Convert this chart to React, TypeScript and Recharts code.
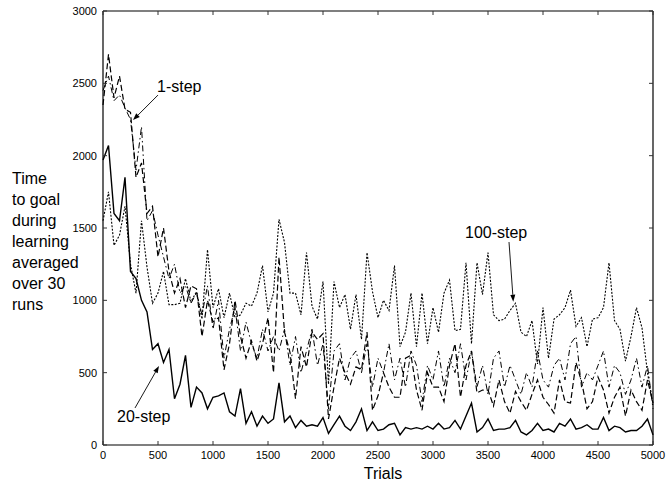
import { LineChart, Line, XAxis, YAxis, ReferenceLine } from 'recharts';

// trial number of each averaged point (every 50 trials)
const trials = [
  0, 50, 100, 150, 200, 250, 300, 350, 400, 450,
  500, 550, 600, 650, 700, 750, 800, 850, 900, 950,
  1000, 1050, 1100, 1150, 1200, 1250, 1300, 1350, 1400, 1450,
  1500, 1550, 1600, 1650, 1700, 1750, 1800, 1850, 1900, 1950,
  2000, 2050, 2100, 2150, 2200, 2250, 2300, 2350, 2400, 2450,
  2500, 2550, 2600, 2650, 2700, 2750, 2800, 2850, 2900, 2950,
  3000, 3050, 3100, 3150, 3200, 3250, 3300, 3350, 3400, 3450,
  3500, 3550, 3600, 3650, 3700, 3750, 3800, 3850, 3900, 3950,
  4000, 4050, 4100, 4150, 4200, 4250, 4300, 4350, 4400, 4450,
  4500, 4550, 4600, 4650, 4700, 4750, 4800, 4850, 4900, 4950,
  5000,
];

// 1-step (dash-dot)
const oneStep = [
  2450, 2550, 2380, 2420, 2330, 2250, 1900, 2200, 1550, 1620,
  1450, 1300, 1150, 1250, 1050, 1100, 980, 1050, 900, 1100,
  800, 1000, 600, 800, 950, 650, 850, 700, 600, 800,
  650, 750, 650, 800, 550, 750, 500, 650, 800, 550,
  700, 250, 650, 700, 450, 600, 650, 500, 700, 400,
  600, 500, 700, 450, 600, 400, 650, 550, 300, 550,
  450, 650, 400, 600, 500, 700, 450, 650, 400, 550,
  350, 600, 650, 400, 550, 450, 350, 500, 400, 650,
  450, 400, 550, 600, 450, 700, 750, 400, 500, 450,
  550, 650, 400, 550, 500, 350, 450, 600, 400, 550,
  250,
];

// unlabelled run (dashed)
const dashedRun = [
  2350, 2700, 2400, 2550, 2320, 2300, 1850, 1950, 1600, 1650,
  1300, 1500, 1200, 1050, 1150, 950, 1100, 1080, 750, 1000,
  850, 880, 520, 700, 1000, 750, 600, 720, 580, 700,
  880, 500, 1300, 780, 640, 320, 680, 540, 780, 730,
  770, 180, 400, 600, 500, 420, 540, 520, 780, 240,
  340, 500, 400, 330, 330, 600, 620, 380, 240, 500,
  400, 400, 300, 550, 700, 330, 550, 650, 360, 380,
  380, 270, 450, 300, 220, 370, 300, 240, 350, 450,
  330, 280, 220, 450, 300, 290, 570, 440, 250, 300,
  470, 380, 220, 330, 400, 200, 380, 300, 240, 450,
  290,
];

// 20-step (solid)
const twentyStep = [
  1970, 2070, 1600, 1550, 1850, 1200, 1150, 1000, 920, 660,
  700, 570, 660, 320, 420, 620, 260, 400, 360, 250,
  330, 340, 360, 230, 200, 390, 150, 230, 130, 200,
  150, 180, 430, 160, 200, 120, 170, 130, 140, 130,
  190, 80, 140, 200, 130, 100, 160, 250, 100, 160,
  100, 110, 140, 150, 70, 120, 110, 120, 110, 130,
  110, 150, 110, 120, 170, 110, 200, 290, 90, 120,
  180, 100, 110, 110, 120, 170, 90, 70, 100, 150,
  100, 110, 90, 150, 130, 180, 110, 120, 140, 110,
  110, 190, 100, 130, 120, 90, 100, 100, 130, 180,
  70,
];

// 100-step (dotted)
const hundredStep = [
  1550, 1750, 1380, 1450, 1650, 1250, 1050, 1550, 1230, 980,
  1050, 1200, 970, 970, 980, 1150, 990, 1060, 870, 1350,
  950, 1080, 880, 1050, 880, 900, 980, 960, 1050, 1240,
  920, 1050, 1560, 1400, 1050, 1050, 900, 1330, 960, 870,
  1130, 420, 1130, 950, 1040, 800, 1040, 730, 1330, 1060,
  880, 1000, 930, 1240, 680, 780, 1050, 680, 1050, 700,
  950, 780, 1050, 1140, 790, 800, 1260, 700, 1260, 1040,
  1330, 900, 860, 870, 930, 980, 780, 750, 860, 560,
  950, 600, 870, 900, 950, 1070, 820, 880, 680, 870,
  880, 950, 1260, 860, 800, 580, 750, 950, 810, 500,
  280,
];

const xDomain = [0, 5000];
const yDomain = [0, 3000];
const xTicks = [0, 500, 1000, 1500, 2000, 2500, 3000, 3500, 4000, 4500, 5000];
const yTicks = [0, 500, 1000, 1500, 2000, 2500, 3000];
const yLabelLines = ['Time', 'to goal', 'during', 'learning', 'averaged', 'over 30', 'runs'];

const data = trials.map((t, i) => ({
  trial: t,
  one: oneStep[i],
  dashed: dashedRun[i],
  twenty: twentyStep[i],
  hundred: hundredStep[i],
}));

// chart layout
const W = 667;
const H = 484;
const marginTop = 11;
const marginRight = 14;
const xAxisHeight = 39;
const yAxisWidth = 103;
const plotLeft = yAxisWidth;
const plotRight = W - marginRight;
const plotTop = marginTop;
const plotBottom = H - xAxisHeight;

const font = '"Liberation Sans", Arial, Helvetica, sans-serif';
const tickStyle = { fontSize: 11, fill: '#000', fontFamily: font };
const frame = { stroke: '#000', strokeWidth: 1.2 };

// arrow callouts: tail -> head in data units, text offset in px from tail
const callouts = [
  { text: '1-step', from: { x: 500, y: 2419 }, to: { x: 273, y: 2246 }, dx: -1, dy: -3 },
  { text: '100-step', from: { x: 3691, y: 1403 }, to: { x: 3730, y: 990 }, dx: -44, dy: -4 },
  { text: '20-step', from: { x: 291, y: 256 }, to: { x: 509, y: 546 }, dx: -18, dy: 14 },
];

function arrowShape(text: string, dx: number, dy: number) {
  return (p: any) => {
    const { x1, y1, x2, y2 } = p;
    const ang = Math.atan2(y2 - y1, x2 - x1);
    const len = 7;
    const w = 2.5;
    const bx = x2 - len * Math.cos(ang);
    const by = y2 - len * Math.sin(ang);
    const px = -Math.sin(ang) * w;
    const py = Math.cos(ang) * w;
    return (
      <g>
        <line x1={x1} y1={y1} x2={bx} y2={by} stroke="#000" strokeWidth={0.9} />
        <polygon points={`${x2},${y2} ${bx + px},${by + py} ${bx - px},${by - py}`} fill="#000" />
        <text x={x1 + dx} y={y1 + dy} fontSize={16} fontFamily={font} fill="#000">
          {text}
        </text>
      </g>
    );
  };
}

// box edges (top, right) and inward tick marks on all four sides
function Frame() {
  const sx = (t: number) => plotLeft + ((t - xDomain[0]) / (xDomain[1] - xDomain[0])) * (plotRight - plotLeft);
  const sy = (t: number) => plotBottom - ((t - yDomain[0]) / (yDomain[1] - yDomain[0])) * (plotBottom - plotTop);
  const k = 4;
  return (
    <svg width={W} height={H} style={{ position: 'absolute', left: 0, top: 0, pointerEvents: 'none' }}>
      <line x1={plotLeft} y1={plotTop} x2={plotRight} y2={plotTop} stroke="#000" strokeWidth={1.2} />
      <line x1={plotRight} y1={plotTop} x2={plotRight} y2={plotBottom} stroke="#000" strokeWidth={1.2} />
      {xTicks.map((t) => (
        <g key={`x${t}`}>
          <line x1={sx(t)} y1={plotBottom} x2={sx(t)} y2={plotBottom - k} stroke="#333" strokeWidth={1} />
          <line x1={sx(t)} y1={plotTop} x2={sx(t)} y2={plotTop + k} stroke="#333" strokeWidth={1} />
        </g>
      ))}
      {yTicks.map((t) => (
        <g key={`y${t}`}>
          <line x1={plotLeft} y1={sy(t)} x2={plotLeft + k} y2={sy(t)} stroke="#333" strokeWidth={1} />
          <line x1={plotRight} y1={sy(t)} x2={plotRight - k} y2={sy(t)} stroke="#333" strokeWidth={1} />
        </g>
      ))}
    </svg>
  );
}

export default function App() {
  return (
    <div style={{ position: 'absolute', left: 0, top: 0, width: W, height: H, background: '#fff' }}>
      <LineChart width={W} height={H} data={data} margin={{ top: marginTop, right: marginRight, bottom: 0, left: 0 }}>
        <XAxis
          dataKey="trial"
          type="number"
          domain={xDomain}
          ticks={xTicks}
          height={xAxisHeight}
          tickLine={false}
          tickSize={0}
          tickMargin={6}
          tick={tickStyle}
          axisLine={frame}
        />
        <YAxis
          type="number"
          domain={yDomain}
          ticks={yTicks}
          width={yAxisWidth}
          tickLine={false}
          tickSize={0}
          tickMargin={6}
          tick={tickStyle}
          axisLine={frame}
        />
        <Line dataKey="hundred" stroke="#000" strokeWidth={1.1} strokeDasharray="2 1.5" dot={false} isAnimationActive={false} />
        <Line dataKey="one" stroke="#000" strokeWidth={1} strokeDasharray="6 3 1.5 3" dot={false} isAnimationActive={false} />
        <Line dataKey="dashed" stroke="#000" strokeWidth={1.2} strokeDasharray="6 3" dot={false} isAnimationActive={false} />
        <Line dataKey="twenty" stroke="#000" strokeWidth={1.4} dot={false} isAnimationActive={false} />
        {callouts.map((c) => (
          <ReferenceLine
            key={c.text}
            segment={[c.from, c.to]}
            ifOverflow="visible"
            shape={arrowShape(c.text, c.dx, c.dy)}
          />
        ))}
      </LineChart>
      <Frame />
      <div
        style={{
          position: 'absolute',
          left: 12,
          top: 168,
          fontFamily: font,
          fontSize: 16,
          lineHeight: '21px',
          color: '#000',
        }}
      >
        {yLabelLines.map((l) => (
          <div key={l}>{l}</div>
        ))}
      </div>
      <div
        style={{
          position: 'absolute',
          left: 328,
          width: 110,
          top: 464,
          textAlign: 'center',
          fontFamily: font,
          fontSize: 16,
          lineHeight: '20px',
          color: '#000',
        }}
      >
        Trials
      </div>
    </div>
  );
}
